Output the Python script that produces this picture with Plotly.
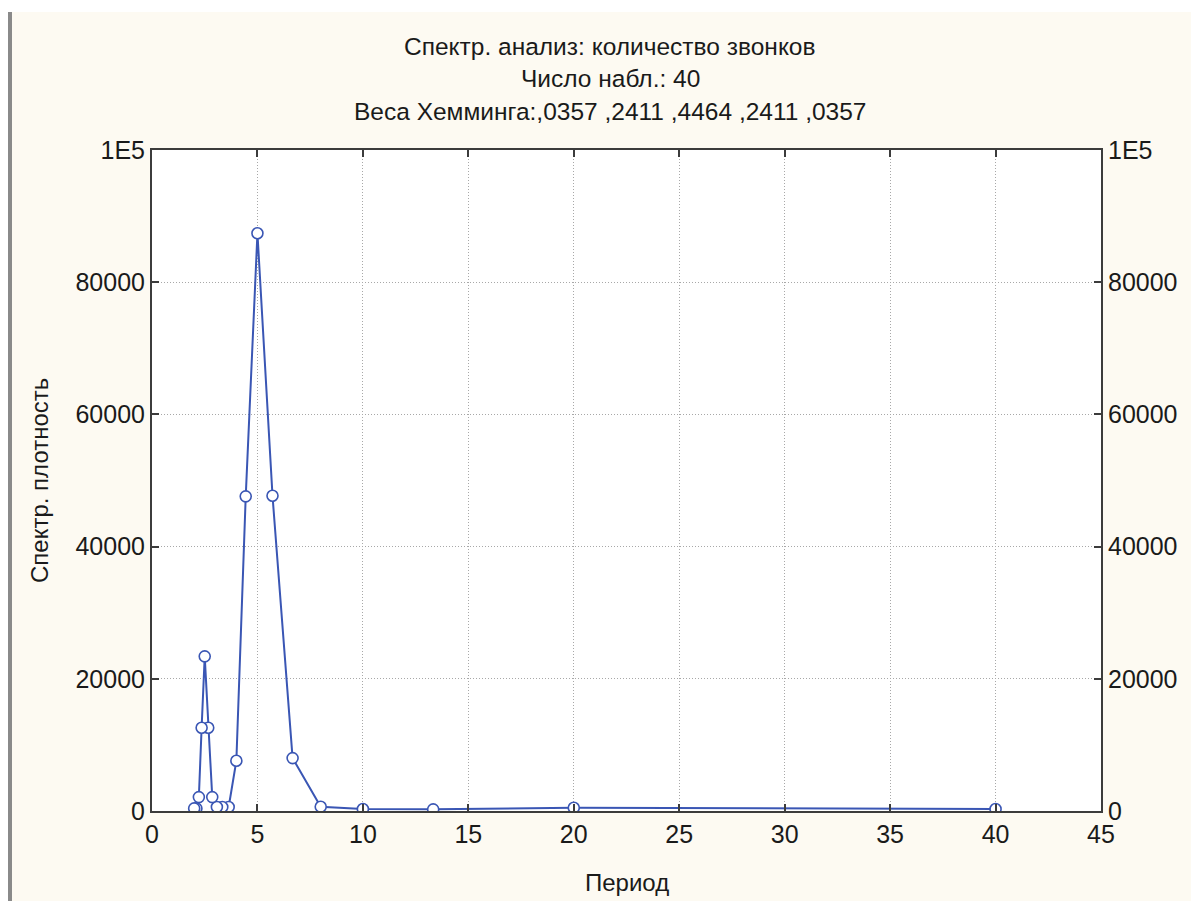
import plotly.graph_objects as go

period = [40.0, 20.0, 13.333, 10.0, 8.0, 6.667, 5.714, 5.0, 4.444, 4.0,
          3.636, 3.333, 3.077, 2.857, 2.667, 2.5, 2.353, 2.222, 2.105, 2.0]
density = [300, 500, 250, 300, 650, 8000, 47700, 87400, 47600, 7600,
           600, 600, 600, 2100, 12600, 23400, 12600, 2100, 400, 400]

title_lines = ["Спектр. анализ: количество звонков",
               "Число набл.: 40",
               "Веса Хемминга:,0357 ,2411 ,4464 ,2411 ,0357"]
x_title = "Период"
y_title = "Спектр. плотность"
x_ticks = [0, 5, 10, 15, 20, 25, 30, 35, 40, 45]
y_ticks = [0, 20000, 40000, 60000, 80000, 100000]
y_ticktext = ["0", "20000", "40000", "60000", "80000", "1E5"]

FONT = "Liberation Sans, Arial, sans-serif"
BLUE = "#3a56b4"
AX = "#3c3c3c"
TXT = "#1a1a1a"

W, H = 1191, 901
L, R, T, B = 152, 90, 150, 90
PW, PH = W - L - R, H - T - B


def px(xp):
    return (xp - L) / PW


def py(yp):
    return (H - B - yp) / PH


fig = go.Figure()
fig.add_trace(go.Scatter(
    x=period, y=density, mode="lines+markers",
    line=dict(color=BLUE, width=2),
    marker=dict(symbol="circle", size=11, color="#ffffff",
                line=dict(color=BLUE, width=1.6)),
    showlegend=False, hoverinfo="x+y"))
fig.add_trace(go.Scatter(
    x=period, y=density, yaxis="y2", mode="lines",
    line=dict(color="rgba(0,0,0,0)", width=0),
    showlegend=False, hoverinfo="skip"))

tickfont = dict(family=FONT, size=25, color=TXT)
axis_common = dict(showline=True, linecolor=AX, linewidth=2,
                   ticks="inside", ticklen=7, tickcolor=AX, tickwidth=2,
                   zeroline=False, automargin=False, tickfont=tickfont)
grid = dict(showgrid=True, gridcolor="#a8a8a8", griddash="1px,2px", gridwidth=1)

fig.update_layout(
    width=W, height=H,
    paper_bgcolor="#fdfaf2", plot_bgcolor="#ffffff",
    margin=dict(l=L, r=R, t=T, b=B, pad=0),
    font=dict(family=FONT, size=24, color=TXT),
    xaxis=dict(range=[0, 45], tickvals=x_ticks, mirror="ticks",
               **grid, **axis_common),
    yaxis=dict(range=[0, 100000], tickvals=y_ticks, ticktext=y_ticktext,
               mirror=True, **grid, **axis_common),
    yaxis2=dict(range=[0, 100000], tickvals=y_ticks, ticktext=y_ticktext,
                overlaying="y", side="right", showgrid=False,
                **axis_common),
)

for txt, yy in zip(title_lines, [46, 78, 111]):
    fig.add_annotation(text=txt, xref="paper", yref="paper",
                       x=px(610), y=py(yy),
                       xanchor="center", yanchor="middle",
                       showarrow=False,
                       font=dict(family=FONT, size=24.5, color=TXT))

fig.add_annotation(text=x_title, xref="paper", yref="paper",
                   x=px(627), y=py(882), xanchor="center", yanchor="middle",
                   showarrow=False, font=dict(family=FONT, size=24, color=TXT))
fig.add_annotation(text=y_title, xref="paper", yref="paper",
                   x=px(39), y=py(481), xanchor="center", yanchor="middle",
                   textangle=-90, showarrow=False,
                   font=dict(family=FONT, size=24, color=TXT))

# window frame: white strip on top/left, grey border bar
fig.add_shape(type="rect", xref="paper", yref="paper",
              x0=px(0), x1=px(W), y0=py(12), y1=py(0),
              fillcolor="#ffffff", line=dict(width=0), layer="below")
fig.add_shape(type="rect", xref="paper", yref="paper",
              x0=px(0), x1=px(8), y0=py(H), y1=py(0),
              fillcolor="#ffffff", line=dict(width=0), layer="below")
fig.add_shape(type="rect", xref="paper", yref="paper",
              x0=px(8), x1=px(12), y0=py(H), y1=py(12),
              fillcolor="#8a8a8a", line=dict(width=0), layer="below")

fig.write_html("out.html",
               config={"displayModeBar": False},
               post_script="document.body.style.margin='0';"
                           "document.body.style.overflow='hidden';")
